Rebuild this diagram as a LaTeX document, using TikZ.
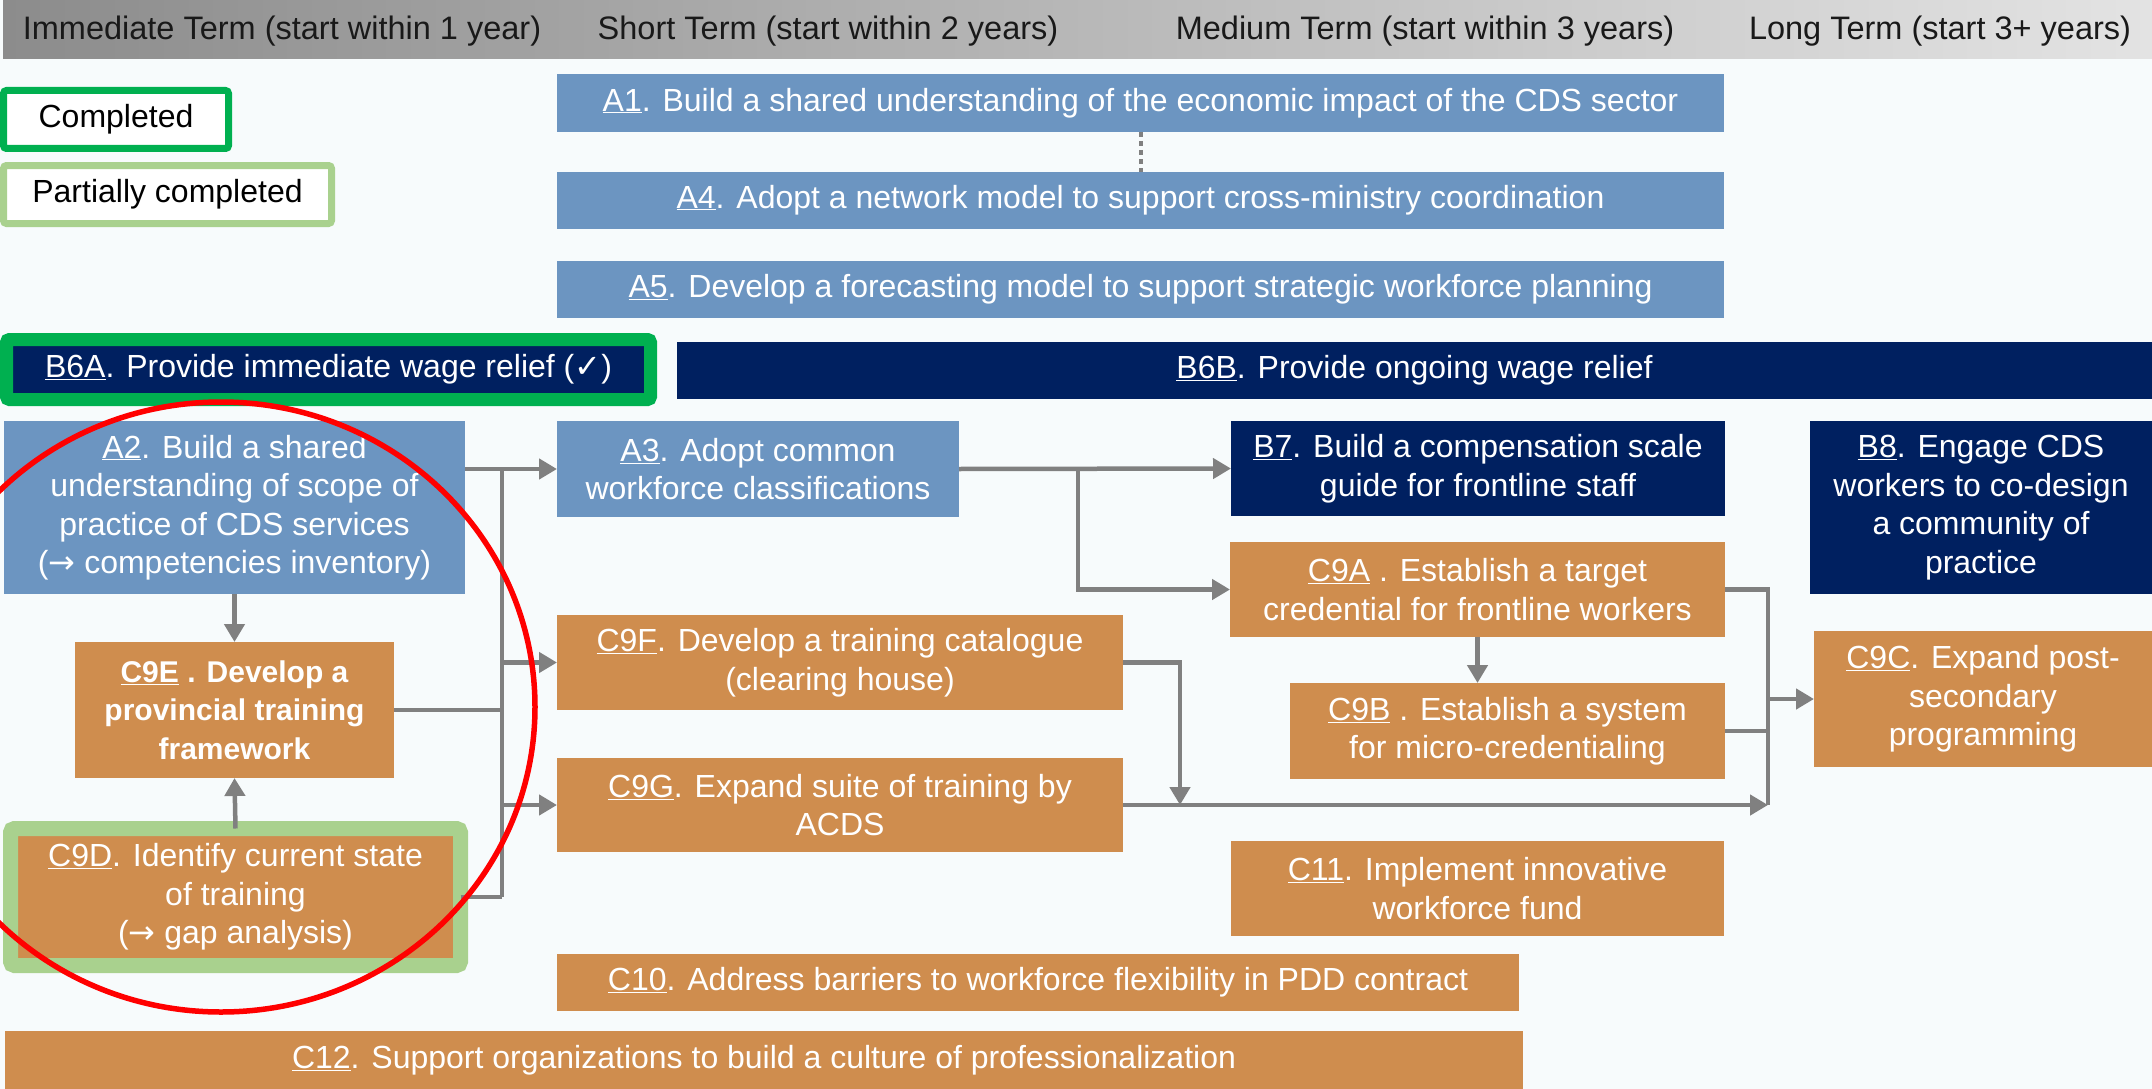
\documentclass[tikz,border=0pt]{standalone}
\usepackage{fontspec}
\setmainfont{Liberation Sans}
\newfontfamily\symfont{DejaVu Sans}
\usetikzlibrary{arrows.meta}
\definecolor{bgc}{HTML}{F7FBFC}
\definecolor{cblue}{HTML}{6C95C1}
\definecolor{cnavy}{HTML}{002060}
\definecolor{corange}{HTML}{CF8D4E}
\definecolor{cgreen}{HTML}{00B050}
\definecolor{clgreen}{HTML}{A9D18E}
\definecolor{cgray}{HTML}{808080}
\definecolor{hdrl}{HTML}{8C8C8C}
\definecolor{hdrr}{HTML}{E3E3E3}
\newcommand{\uid}[1]{$\underline{\hbox{#1}}$}
\newcommand{\arr}{{\symfont →}}
\begin{document}
\begin{tikzpicture}[x=1pt,y=-1pt,
  box/.style={rectangle, inner sep=0pt, outer sep=0pt, align=center, text=white,
    font={\fontsize{32pt}{38.5pt}\selectfont}},
  bluebox/.style={box, fill=cblue},
  navybox/.style={box, fill=cnavy},
  orangebox/.style={box, fill=corange},
  legendbox/.style={box, text=black, fill=white, line width=7pt, rounded corners=3pt},
  hdr/.style={font={\fontsize{32.5pt}{38pt}\selectfont}, text=black!90, inner sep=0pt},
  conn/.style={draw=cgray, line width=4.5pt},
  arrowconn/.style={conn, -{Triangle[length=18pt,width=20pt]}},
  dashconn/.style={draw=cgray, line width=4pt, dash pattern=on 5pt off 4pt},
  ring/.style={draw=red, line width=5.5pt}
]
\useasboundingbox (0,0) rectangle (2152,1089);
\fill[bgc] (0,0) rectangle (2152,1089);
\shade[left color=hdrl, right color=hdrr] (3,0) rectangle (2152,59);

% header
\node[hdr] (h1) at (282,31) {Immediate Term (start within 1 year)};
\node[hdr] (h2) at (828,31) {Short Term (start within 2 years)};
\node[hdr] (h3) at (1425,31) {Medium Term (start within 3 years)};
\node[hdr] (h4) at (1940,31) {Long Term (start 3+ years)};

% legend
\node[legendbox, draw=cgreen, minimum width=225pt, minimum height=58pt] (lg1) at (116,119.5) {Completed};
\node[legendbox, draw=clgreen, minimum width=328pt, minimum height=58pt] (lg2) at (167.5,194.5) {Partially completed};

% A row
\node[bluebox, minimum width=1167pt, minimum height=58pt] (a1) at (1140.5,103) {\uid{A1}. Build a shared understanding of the economic impact of the CDS sector};
\node[bluebox, minimum width=1167pt, minimum height=57pt] (a4) at (1140.5,200) {\uid{A4}. Adopt a network model to support cross-ministry coordination};
\node[bluebox, minimum width=1167pt, minimum height=57pt] (a5) at (1140.5,289.5) {\uid{A5}. Develop a forecasting model to support strategic workforce planning};

% B6
\node[navybox, draw=cgreen, line width=13pt, rounded corners=3pt, minimum width=644pt, minimum height=60pt] (b6a) at (328.5,369.5) {\uid{B6A}. Provide immediate wage relief ({\symfont ✓})};
\node[navybox, minimum width=1475pt, minimum height=57pt] (b6b) at (1414.5,370.5) {\uid{B6B}. Provide ongoing wage relief};

% left column
\node[bluebox, minimum width=461pt, minimum height=173pt] (a2) at (234.5,507.5) {\uid{A2}. Build a shared\\understanding of scope of\\practice of CDS services\\(\arr{} competencies inventory)};
\node[orangebox, minimum width=319pt, minimum height=136pt, font={\fontsize{30pt}{38.5pt}\selectfont\bfseries}] (c9e) at (234.5,710) {\uid{C9E} . Develop a\\provincial training\\framework};
\node[orangebox, draw=clgreen, line width=15pt, rounded corners=4pt, minimum width=450pt, minimum height=137pt] (c9d) at (235.5,897) {\uid{C9D}. Identify current state\\of training\\(\arr{} gap analysis)};

% middle column
\node[bluebox, minimum width=402pt, minimum height=96pt] (a3) at (758,469) {\uid{A3}. Adopt common\\workforce classifications};
\node[orangebox, minimum width=566pt, minimum height=95pt] (c9f) at (840,662.5) {\uid{C9F}. Develop a training catalogue\\(clearing house)};
\node[orangebox, minimum width=566pt, minimum height=94pt] (c9g) at (840,805) {\uid{C9G}. Expand suite of training by\\ACDS};
\node[orangebox, minimum width=962pt, minimum height=57pt] (c10) at (1038,982.5) {\uid{C10}. Address barriers to workforce flexibility in PDD contract};
\node[orangebox, minimum width=1518pt, minimum height=58pt] (c12) at (764,1060) {\uid{C12}. Support organizations to build a culture of professionalization};

% right-middle column
\node[navybox, minimum width=494pt, minimum height=95pt] (b7) at (1478,468.5) {\uid{B7}. Build a compensation scale\\guide for frontline staff};
\node[orangebox, minimum width=495pt, minimum height=95pt] (c9a) at (1477.5,589.5) {\uid{C9A} . Establish a target\\credential for frontline workers};
\node[orangebox, minimum width=435pt, minimum height=96pt] (c9b) at (1507.5,731) {\uid{C9B} . Establish a system\\for micro-credentialing};
\node[orangebox, minimum width=493pt, minimum height=95pt] (c11) at (1477.5,888.5) {\uid{C11}. Implement innovative\\workforce fund};

% right column
\node[navybox, minimum width=342pt, minimum height=173pt] (b8) at (1981,507.5) {\uid{B8}. Engage CDS\\workers to co-design\\a community of\\practice};
\node[orangebox, minimum width=338pt, minimum height=136pt] (c9c) at (1983,699) {\uid{C9C}. Expand post-\\secondary\\programming};

% coordinates
\coordinate (busT) at (502,469);
\coordinate (busB) at (502,897);
\coordinate (j1) at (1078,469);
\coordinate (j2) at (1180,805);
\coordinate (rT) at (1768,589.5);
\coordinate (rB) at (1768,805);

% connectors
\draw[dashconn] (a1.south) -- (a4.north);
\draw[arrowconn] (a2.south) -- (c9e.north);
\draw[arrowconn] (c9d.north) -- (c9e.south);
\draw[arrowconn] (a2.east |- a3.west) -- (a3.west);
\draw[conn] (busT) -- (busB);
\draw[conn] (c9d.east) -- (busB);
\draw[conn] (c9e.east) -- (busT |- c9e.east);
\draw[arrowconn] (busT |- c9f.west) -- (c9f.west);
\draw[arrowconn] (busT |- c9g.west) -- (c9g.west);
\draw[arrowconn] (a3.east) -- (b7.west);
\draw[arrowconn] (j1) |- (c9a.west);
\draw[arrowconn] (c9a.south) -- (c9a.south |- c9b.north);
\draw[arrowconn] (c9f.east) -| (j2);
\draw[arrowconn] (c9g.east) -- (rB);
\draw[conn] (c9a.east) -- (rT) -- (rB);
\draw[conn] (c9b.east) -- (rT |- c9b.east);
\draw[arrowconn] (rT |- c9c.west) -- (c9c.west);

% highlight ring
\draw[ring] (221,707) ellipse [x radius=314, y radius=305];
\end{tikzpicture}
\end{document}
